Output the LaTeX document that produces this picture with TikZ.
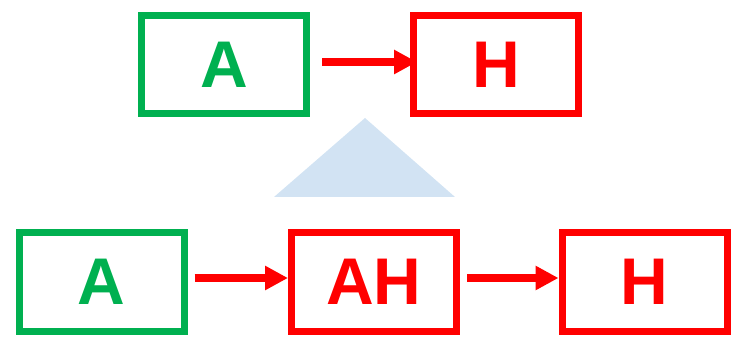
\documentclass[tikz,border=0pt]{standalone}
\usepackage{fontspec}
\setmainfont{Liberation Sans}
\usetikzlibrary{arrows.meta, positioning}
\definecolor{markgreen}{HTML}{00B050}
\definecolor{markred}{HTML}{FF0000}
\definecolor{paleblue}{HTML}{D2E3F3}

\begin{document}
\begin{tikzpicture}[x=1pt, y=-1pt, line cap=butt,
    letterbox/.style={draw=#1, text=#1, line width=7pt, minimum width=165pt, minimum height=98pt, inner sep=0pt, font=\fontsize{66}{66}\selectfont\bfseries},
    linkarrow/.style={draw=markred, line width=8pt, -{Triangle[length=23pt, width=23pt]}}]
      \useasboundingbox (0,0) rectangle (731,339);

      % top row
      \node[letterbox=markgreen] (topA) at (224,65) {A};
      \node[letterbox=markred] (topH) at (496,65) {H};
      \draw[linkarrow, shorten <=12pt, shorten >=-7pt] ([yshift=3pt]topA.east) -- ([yshift=3pt]topH.west);

      % triangle between rows
      \fill[paleblue] (365,118) -- (455,197) -- (274,197) -- cycle;

      % bottom row
      \node[letterbox=markgreen] (botA) at (101.5,282) {A};
      \node[letterbox=markred] (botAH) at (374,282) {AH};
      \node[letterbox=markred] (botH) at (644.5,282) {H};
      \draw[linkarrow, shorten <=7pt] ([yshift=4pt]botA.east) -- ([yshift=4pt]botAH.west);
      \draw[linkarrow, shorten <=7pt] ([yshift=4pt]botAH.east) -- ([yshift=4pt]botH.west);
    \end{tikzpicture}
\end{document}
